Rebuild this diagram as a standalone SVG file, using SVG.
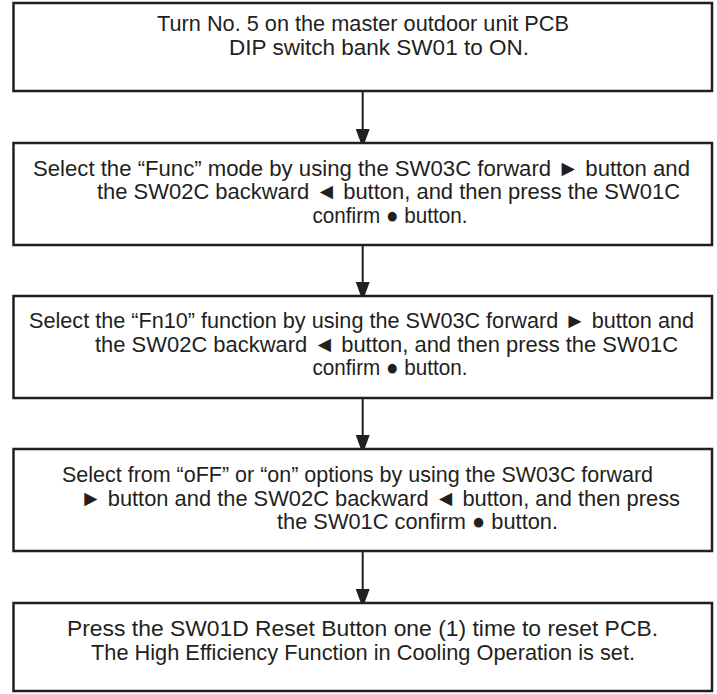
<svg xmlns="http://www.w3.org/2000/svg" width="717" height="694" viewBox="0 0 717 694">
<style>
.box{fill:#fff;stroke:#231f20;stroke-width:2.5}
.t{font-family:"Liberation Sans",Arial,sans-serif;font-size:22.5px;fill:#231f20;text-anchor:middle}
.s{font-size:21.5px}
.c{stroke:#231f20;stroke-width:2;fill:none}
</style>
<defs>
<marker id="ah" markerUnits="userSpaceOnUse" markerWidth="14" markerHeight="20" refX="13" refY="7" orient="auto">
<path d="M0,0 L19,7 L0,14 Z" fill="#231f20"/>
</marker>
</defs>
<rect width="717" height="694" fill="#fff"/>
<g id="connectors">
<line class="c" x1="362.7" y1="91" x2="362.7" y2="142" marker-end="url(#ah)"/>
<line class="c" x1="362.7" y1="245" x2="362.7" y2="295" marker-end="url(#ah)"/>
<line class="c" x1="362.7" y1="398" x2="362.7" y2="448" marker-end="url(#ah)"/>
<line class="c" x1="362.7" y1="551" x2="362.7" y2="602" marker-end="url(#ah)"/>
</g>
<g id="n1">
<rect class="box" x="13.5" y="3" width="698.5" height="88"/>
<text class="t" x="363" y="31" textLength="412" lengthAdjust="spacingAndGlyphs">Turn No. 5 on the master outdoor unit PCB</text>
<text class="t" x="379" y="55" textLength="300" lengthAdjust="spacingAndGlyphs">DIP switch bank SW01 to ON.</text>
</g>
<g id="n2">
<rect class="box" x="13.5" y="143" width="698.5" height="102"/>
<text class="t" x="361.5" y="175.5" textLength="657" lengthAdjust="spacingAndGlyphs">Select the “Func” mode by using the SW03C forward ► button and</text>
<text class="t" x="388.5" y="199" textLength="583" lengthAdjust="spacingAndGlyphs">the SW02C backward ◄ button, and then press the SW01C</text>
<text class="t" x="390" y="222.5" textLength="155" lengthAdjust="spacingAndGlyphs">confirm ● button.</text>
</g>
<g id="n3">
<rect class="box" x="13.5" y="296" width="698.5" height="102"/>
<text class="t s" x="361.5" y="328" textLength="665" lengthAdjust="spacingAndGlyphs">Select the “Fn10” function by using the SW03C forward ► button and</text>
<text class="t" x="386.5" y="351.5" textLength="583" lengthAdjust="spacingAndGlyphs">the SW02C backward ◄ button, and then press the SW01C</text>
<text class="t" x="390" y="375" textLength="155" lengthAdjust="spacingAndGlyphs">confirm ● button.</text>
</g>
<g id="n4">
<rect class="box" x="13.5" y="449" width="698.5" height="102"/>
<text class="t" x="357.5" y="482" textLength="591" lengthAdjust="spacingAndGlyphs">Select from “oFF” or “on” options by using the SW03C forward</text>
<text class="t" x="380" y="505.5" textLength="600" lengthAdjust="spacingAndGlyphs">► button and the SW02C backward ◄ button, and then press</text>
<text class="t" x="417.5" y="529" textLength="281" lengthAdjust="spacingAndGlyphs">the SW01C confirm ● button.</text>
</g>
<g id="n5">
<rect class="box" x="13.5" y="603" width="698.5" height="88"/>
<text class="t" x="362.5" y="636" textLength="591" lengthAdjust="spacingAndGlyphs">Press the SW01D Reset Button one (1) time to reset PCB.</text>
<text class="t" x="363" y="660" textLength="544" lengthAdjust="spacingAndGlyphs">The High Efficiency Function in Cooling Operation is set.</text>
</g>
</svg>
